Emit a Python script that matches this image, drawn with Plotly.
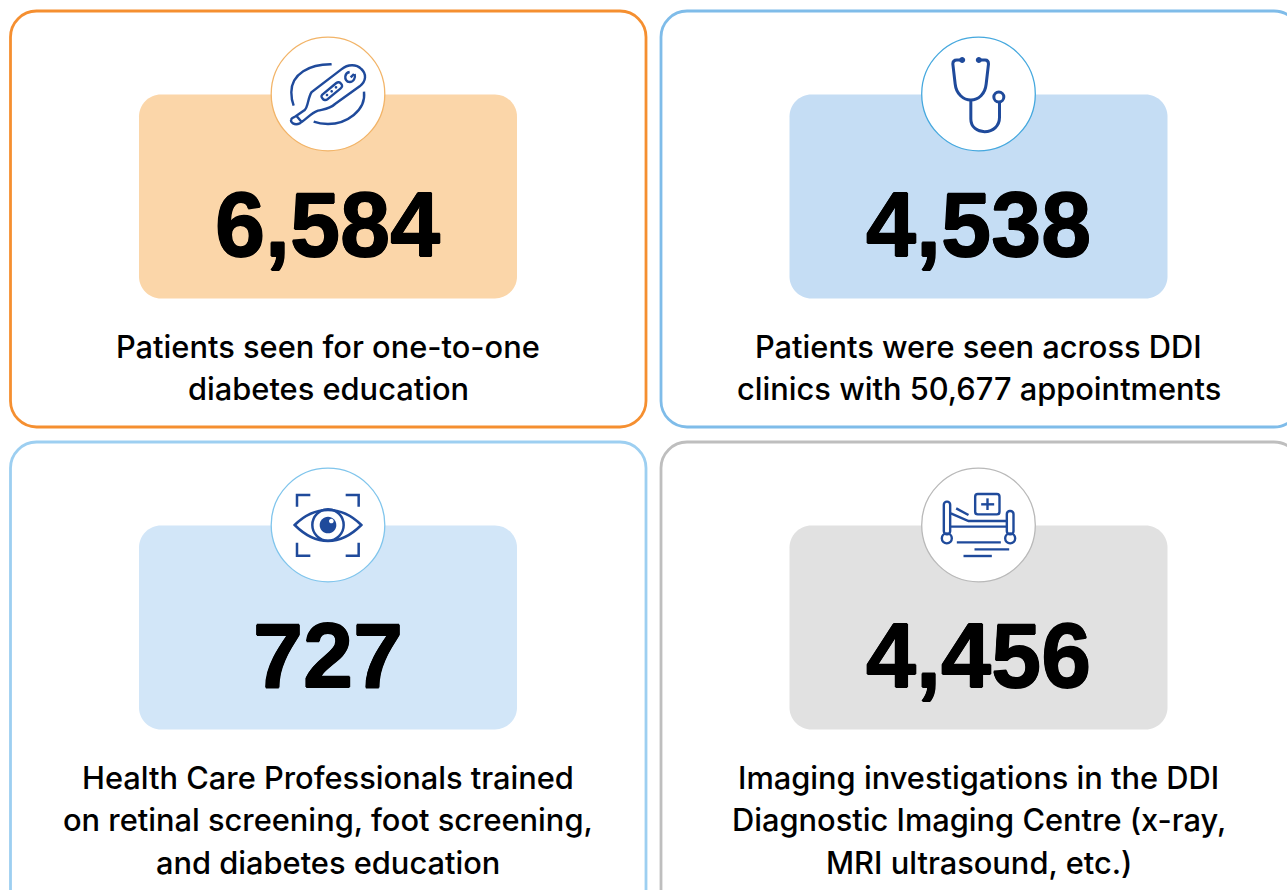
import re
import plotly.graph_objects as go

W, H = 1287, 890
values = ["6,584", "4,538", "727", "4,456"]
captions = [
    ["Patients seen for one-to-one", "diabetes education"],
    ["Patients were seen across DDI", "clinics with 50,677 appointments"],
    ["Health Care Professionals trained", "on retinal screening, foot screening,", "and diabetes education"],
    ["Imaging investigations in the DDI", "Diagnostic Imaging Centre (x-ray,", "MRI ultrasound, etc.)"],
]
border_colors = ["#F58F30", "#7FBCE9", "#9DCFF1", "#BEBEBE"]
panel_colors = ["#FBD6A9", "#C5DDF4", "#D2E6F8", "#E1E1E1"]
ring_colors = ["#F2B468", "#45A8DE", "#80C5EC", "#B9B9B9"]
ICON = "#1F4A9B"
CAP_FONT = "Inter"
NUM_FONT = "Liberation Sans"
NUM_SHADOW = "0.7px 0 0 #000, -0.7px 0 0 #000, 0 0.7px 0 #000, 0 -0.7px 0 #000"

# layout: card left/top, panel left/top, icon centre
card_boxes = [(10.5, 11, 646, 427), (661, 11, 1300, 427), (10.5, 442, 646, 950), (661, 442, 1300, 950)]
panel_boxes = [(139, 94.5, 517, 298.5), (789.5, 94.5, 1167.5, 298.5), (139, 525.5, 517, 729.5), (789.5, 525.5, 1167.5, 729.5)]
centres = [(328, 94), (978.5, 94), (328, 525), (978.5, 525)]
cap_first_y = [346, 346, 777, 777]
CAP_STEP = 42.7
num_y = [224.5, 224.5, 655.5, 655.5]


def rr(x0, y0, x1, y1, r):
    k = r * 0.45
    return (f"M {x0+r},{y0} L {x1-r},{y0} C {x1-k},{y0} {x1},{y0+k} {x1},{y0+r} "
            f"L {x1},{y1-r} C {x1},{y1-k} {x1-k},{y1} {x1-r},{y1} "
            f"L {x0+r},{y1} C {x0+k},{y1} {x0},{y1-k} {x0},{y1-r} "
            f"L {x0},{y0+r} C {x0},{y0+k} {x0+k},{y0} {x0+r},{y0} Z")


def circ(cx, cy, r):
    k = r * 0.5523
    return (f"M {cx-r},{cy} C {cx-r},{cy-k} {cx-k},{cy-r} {cx},{cy-r} "
            f"C {cx+k},{cy-r} {cx+r},{cy-k} {cx+r},{cy} "
            f"C {cx+r},{cy+k} {cx+k},{cy+r} {cx},{cy+r} "
            f"C {cx-k},{cy+r} {cx-r},{cy+k} {cx-r},{cy} Z")


def place(path, centre, origin):
    """Icon outlines are sketched on a 3x grid around `origin`."""
    def sub(m):
        x, y = float(m.group(1)), float(m.group(2))
        return f"{(x-origin[0])/3+centre[0]:.2f},{(y-origin[1])/3+centre[1]:.2f}"
    return re.sub(r"(-?[\d.]+),(-?[\d.]+)", sub, path)


icons = [
    dict(origin=(235, 220), lw=2.4, strokes=[
        "M 138,287 L 165,268 C 176,258 174,232 186,214 L 275,146 C 295,130 320,130 335,145 C 351,160 350,181 330,197 L 256,250 C 241,264 225,265 205,270 C 185,276 165,300 150,308 C 135,315 120,305 125,296 C 126,291 131,291 138,287 Z",
        "M 140,285 L 156,304",
        "M 218,222 L 260,187 C 265,183 270,184 274,189 C 279,194 278,199 273,203 L 233,236 C 228,240 222,238 219,234 C 215,230 214,226 218,222 Z",
        "M 315,160 C 318,172 312,184 300,184 C 290,184 286,174 287,167 C 288,160 294,155 300,154",
        "M 303,170 L 313,160",
        "M 246,131 C 180,130 125,160 125,215 C 125,232 128,245 132,255",
        "M 343,213 C 350,270 290,310 235,310 C 220,310 205,308 192,303",
    ], fills=[circ(232, 223, 4), circ(246, 212, 4), circ(259, 200, 4)]),
    dict(origin=(235, 220), lw=3.0, strokes=[
        "M 183,118 L 170,118 C 162,118 158,122 158,130 L 165,190 C 168,220 190,238 212,238 C 235,238 255,220 258,190 L 265,130 C 265,122 262,118 255,118 L 237,118",
        "M 212,238 L 212,295 C 212,320 232,333 253,333 C 280,333 298,315 298,290 L 298,245",
        circ(296, 229, 15),
    ], fills=[circ(186, 118, 9), circ(236, 118, 9)]),
    dict(origin=(235, 210), lw=2.5, strokes=[
        "M 142,155 L 142,120 L 182,120", "M 288,120 L 327,120 L 327,155",
        "M 142,263 L 142,302 L 182,302", "M 288,302 L 327,302 L 327,263",
        "M 135,210 C 165,180 200,165 235,165 C 270,165 305,180 335,210 C 305,240 270,258 235,258 C 200,258 165,240 135,210 Z",
        circ(235, 210, 47),
    ], fills=[circ(235, 210, 25)], holes=[circ(245, 198, 7)]),
    dict(origin=(235, 210), lw=2.4, strokes=[
        rr(131, 140, 150, 238, 9), rr(320, 168, 340, 238, 9),
        circ(140, 250, 15), circ(330, 250, 15),
        "M 150,215 L 320,215", "M 152,175 L 205,198 L 320,198", "M 168,160 L 205,180",
        rr(225, 117, 298, 178, 8), "M 262,130 L 262,165", "M 243,148 L 282,148",
        "M 170,262 L 302,262", "M 223,283 L 327,283", "M 190,303 L 275,303",
    ], fills=[]),
]

shapes = []
annotations = []
for i in range(4):
    x0, y0, x1, y1 = card_boxes[i]
    shapes.append(dict(type="path", path=rr(x0, y0, x1, y1, 26), fillcolor="white",
                       line=dict(color=border_colors[i], width=2.8), layer="between"))
    px0, py0, px1, py1 = panel_boxes[i]
    shapes.append(dict(type="path", path=rr(px0, py0, px1, py1, 22), fillcolor=panel_colors[i],
                       line=dict(width=0), layer="between"))
    cx, cy = centres[i]
    shapes.append(dict(type="path", path=circ(cx, cy, 56.8), fillcolor="white",
                       line=dict(color=ring_colors[i], width=1.3), layer="between"))
    ic = icons[i]
    for s in ic["strokes"]:
        shapes.append(dict(type="path", path=place(s, (cx, cy), ic["origin"]),
                           line=dict(color=ICON, width=ic["lw"]), layer="between"))
    for s in ic.get("fills", []):
        shapes.append(dict(type="path", path=place(s, (cx, cy), ic["origin"]),
                           fillcolor=ICON, line=dict(width=0), layer="between"))
    for s in ic.get("holes", []):
        shapes.append(dict(type="path", path=place(s, (cx, cy), ic["origin"]),
                           fillcolor="white", line=dict(width=0), layer="between"))
    annotations.append(dict(x=(px0 + px1) / 2 - 0.5, y=num_y[i], text=values[i], showarrow=False,
                            xanchor="center", yanchor="middle",
                            font=dict(family=NUM_FONT, size=90, color="#000000", weight=700,
                                      shadow=NUM_SHADOW)))
    for j, line in enumerate(captions[i]):
        annotations.append(dict(x=(px0 + px1) / 2, y=cap_first_y[i] + j * CAP_STEP, text=line,
                                showarrow=False, xanchor="center", yanchor="middle",
                                font=dict(family=CAP_FONT, size=30.8, color="#000000", weight=500)))

fig = go.Figure()
fig.update_layout(
    width=W, height=H, margin=dict(l=0, r=0, t=0, b=0),
    paper_bgcolor="white", plot_bgcolor="white", showlegend=False,
    xaxis=dict(range=[0, W], visible=False, fixedrange=True),
    yaxis=dict(range=[H, 0], visible=False, fixedrange=True),
    shapes=shapes, annotations=annotations,
)
fig.write_html("out.html", config=dict(displayModeBar=False),
               post_script="document.body.style.margin='0';document.body.style.overflow='hidden';")
